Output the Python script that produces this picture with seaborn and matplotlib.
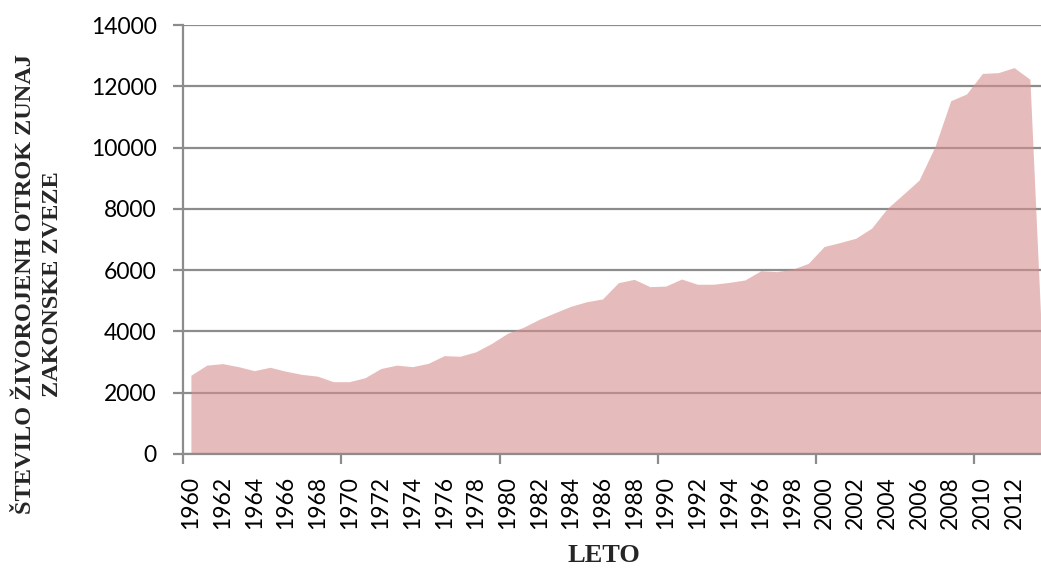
import matplotlib
matplotlib.use("Agg")
import matplotlib.pyplot as plt
import seaborn as sns
import numpy as np
import pandas as pd

years = list(range(1960, 2015))
births = [2570, 2900, 2950, 2850, 2720, 2830, 2700, 2600, 2540, 2360,
          2360, 2490, 2790, 2900, 2850, 2960, 3210, 3190, 3335, 3610,
          3940, 4135, 4395, 4610, 4820, 4970, 5060, 5590, 5700, 5460,
          5480, 5710, 5540, 5540, 5600, 5680, 5980, 5950, 6030, 6220,
          6770, 6900, 7040, 7370, 8020, 8475, 8940, 10030, 11530, 11750,
          12420, 12445, 12610, 12230, 800]
ytick_vals = [0, 2000, 4000, 6000, 8000, 10000, 12000, 14000]
xlabel_years = list(range(1960, 2013, 2))

df = pd.DataFrame({"leto": years, "stevilo": births})

sns.set_theme(style="white")
plt.rcParams["font.family"] = ["Lato", "DejaVu Sans"]

W, H = 1041, 568
fig = plt.figure(figsize=(W / 100, H / 100), dpi=100)
left_px, right_px, top_px, bottom_px = 183, 183 + 55 * 15.83, 25, 454
ax = fig.add_axes([left_px / W, 1 - bottom_px / H,
                   (right_px - left_px) / W, (bottom_px - top_px) / H])

grid_col = "#8C8C8C"
ax.set_axisbelow(True)
ax.yaxis.grid(True, color=grid_col, linewidth=1.6)
ax.xaxis.grid(False)

area_col = "#D5908E"
sns.lineplot(data=df, x="leto", y="stevilo", ax=ax, color=area_col,
             linewidth=0, alpha=0.6)
ax.fill_between(df["leto"], 0, df["stevilo"], color=area_col, alpha=0.6,
                linewidth=0, zorder=2)

ax.set_xlim(1959.5, 2014.5)
ax.set_ylim(0, 14000)
ax.set_yticks(ytick_vals)
ax.set_yticklabels([str(v) for v in ytick_vals], fontsize=16.5, color="black")

ax.set_xticks(xlabel_years)
ax.set_xticklabels([str(y) for y in xlabel_years], rotation=90, fontsize=16.5,
                   color="black", va="top")
ax.set_xticks(np.arange(1959.5, 2014.6, 10), minor=True)
ax.tick_params(axis="x", which="major", length=0, pad=16)
ax.tick_params(axis="x", which="minor", length=7, width=1.6, color=grid_col,
               direction="out", bottom=True)
ax.tick_params(axis="y", which="major", length=7, width=1.6, color=grid_col,
               direction="out", left=True, pad=12)

for side in ["top", "right"]:
    ax.spines[side].set_visible(False)
for side in ["left", "bottom"]:
    ax.spines[side].set_color(grid_col)
    ax.spines[side].set_linewidth(1.6)
    ax.spines[side].set_zorder(3)

ax.set_xlabel("")
ax.set_ylabel("")

serif = ["Liberation Serif", "DejaVu Serif"]
fig.text(39 / W, 1 - 284 / H, "ŠTEVILO ŽIVOROJENH OTROK ZUNAJ\nZAKONSKE ZVEZE",
         rotation=90, ha="center", va="center", multialignment="center",
         fontsize=17.5, fontweight="bold", family=serif, linespacing=1.35)
fig.text(604 / W, 1 - 556 / H, "LETO", ha="center", va="center",
         fontsize=19, fontweight="bold", family=serif)

fig.savefig("out.png", dpi=100)
